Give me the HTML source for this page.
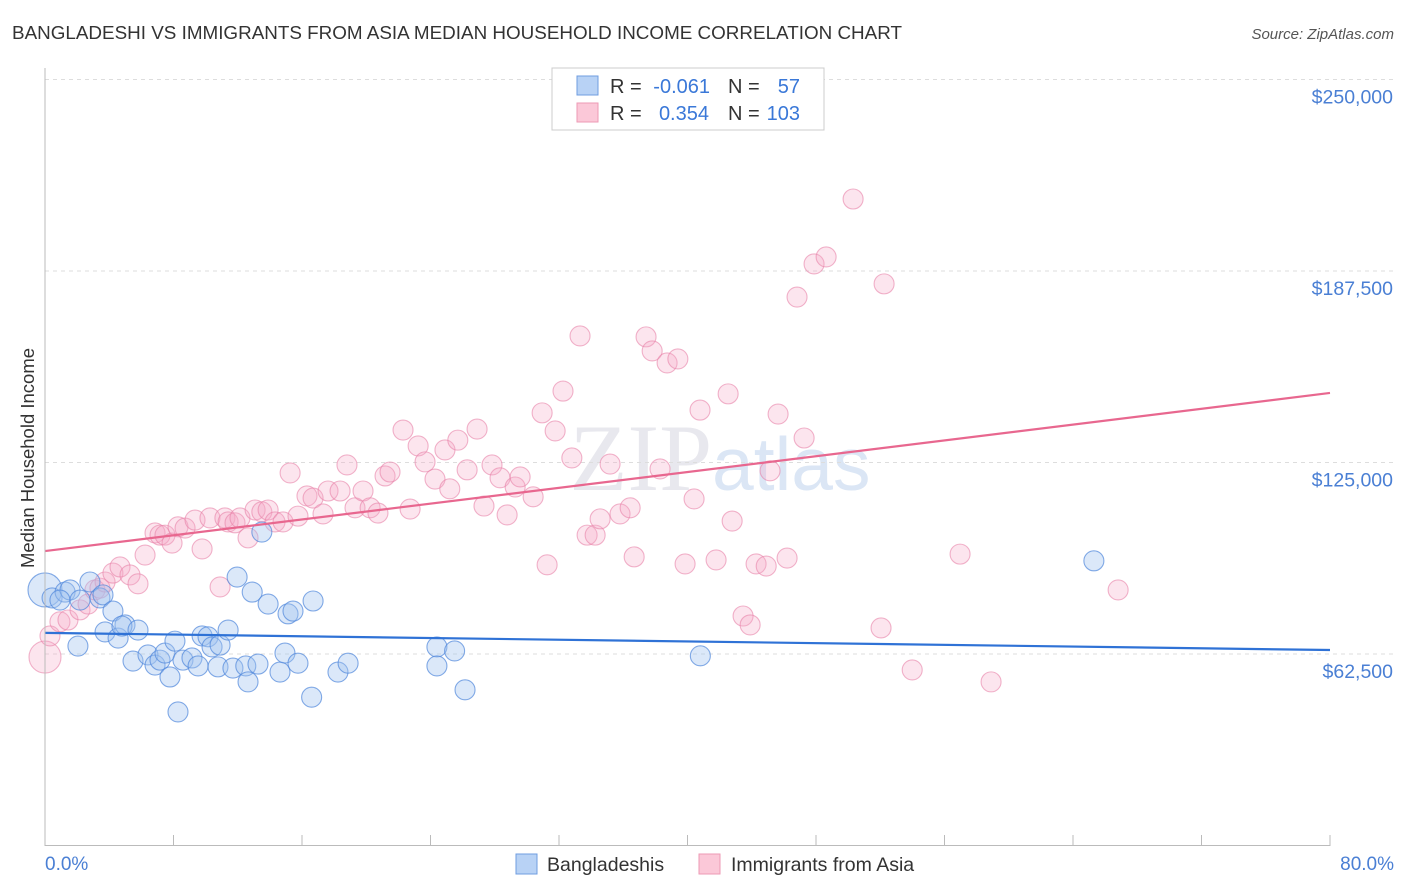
<!DOCTYPE html>
<html><head><meta charset="utf-8"><style>
body{margin:0;background:#fff;font-family:"Liberation Sans",sans-serif}
svg{display:block}
</style></head><body>
<svg id="c" width="1406" height="892">
<text x="12" y="39" font-size="18" fill="#333" textLength="890" lengthAdjust="spacingAndGlyphs">BANGLADESHI VS IMMIGRANTS FROM ASIA MEDIAN HOUSEHOLD INCOME CORRELATION CHART</text>
<text x="1394" y="39" font-size="15" fill="#555" font-style="italic" text-anchor="end">Source: ZipAtlas.com</text>
<text x="34" y="458" font-size="18.5" fill="#333" text-anchor="middle" transform="rotate(-90 34 458)">Median Household Income</text>
<text x="720" y="490" font-size="95" fill="#e8e8ee" text-anchor="middle" font-family="Liberation Serif,serif">ZIP<tspan fill="#dbe6f5" font-family="Liberation Sans,sans-serif" font-size="75">atlas</tspan></text>
<g id="grid"></g><g id="marks"></g><g id="lines"></g>
<line x1="45" y1="68" x2="45" y2="846" stroke="#bbb"/>
<line x1="45" y1="845.5" x2="1330" y2="845.5" stroke="#bbb"/>
<text x="45" y="870" font-size="19" fill="#4a7fd4">0.0%</text>
<text x="1394" y="870" font-size="19" fill="#4a7fd4" text-anchor="end">80.0%</text>
<g>
<rect x="552" y="68" width="272" height="62" fill="#fff" stroke="#ccc"/>
<rect x="577" y="76" width="21" height="19" fill="#b8d2f5" stroke="#6f9de0"/>
<rect x="577" y="103" width="21" height="19" fill="#fbc8d8" stroke="#ee9ab5"/>
<text x="610" y="93" font-size="20" fill="#333">R =</text>
<text x="710" y="93" font-size="20" fill="#3a78d8" text-anchor="end">-0.061</text>
<text x="728" y="93" font-size="20" fill="#333">N =</text>
<text x="800" y="93" font-size="20" fill="#3a78d8" text-anchor="end">57</text>
<text x="610" y="120" font-size="20" fill="#333">R =</text>
<text x="709" y="120" font-size="20" fill="#3a78d8" text-anchor="end">0.354</text>
<text x="728" y="120" font-size="20" fill="#333">N =</text>
<text x="800" y="120" font-size="20" fill="#3a78d8" text-anchor="end">103</text>
</g>
<g>
<rect x="516" y="854" width="21" height="20" fill="#b8d2f5" stroke="#6f9de0"/>
<text x="547" y="871" font-size="19.5" fill="#333">Bangladeshis</text>
<rect x="699" y="854" width="21" height="20" fill="#fbc8d8" stroke="#ee9ab5"/>
<text x="731" y="871" font-size="19.5" fill="#333">Immigrants from Asia</text>
</g>
</svg>
<script>
const yTicks=[62500,125000,187500,250000];
const yTickLabels=["$62,500","$125,000","$187,500","$250,000"];
const blueX=[0,0.44,1.25,1.56,0.93,2.8,3.42,3.61,4.23,2.05,3.74,4.55,4.98,4.79,5.79,5.48,6.41,6.85,7.16,7.47,7.78,8.09,8.28,8.59,9.15,9.53,9.78,10.15,10.4,10.77,10.9,11.4,11.7,11.96,12.5,12.64,12.9,13.26,13.5,13.89,14.63,14.94,15.13,15.44,15.75,16.6,16.69,18.24,18.87,24.4,24.4,25.5,26.15,40.8,65.3,2.18];
const blueY=[83.4,80.8,82.7,83.4,80.1,86.0,80.8,81.8,76.5,65.1,69.7,67.7,72.0,71.6,70.3,60.2,62.2,58.9,60.5,62.8,55.0,66.7,43.6,60.5,61.2,58.6,68.4,68.1,64.8,58.3,65.4,70.3,57.9,87.6,58.6,53.4,82.7,59.2,102.3,78.8,56.6,62.8,75.6,76.5,59.5,48.4,79.8,56.6,59.5,64.8,58.6,63.5,50.8,61.9,92.9,80.1];
const pinkX=[0,0.31,0.93,1.43,2.18,2.68,3.11,3.42,3.74,4.23,4.67,5.29,5.79,6.23,6.85,7.16,7.47,7.91,8.28,8.72,9.34,9.78,10.27,10.9,11.2,11.4,11.83,12.14,12.64,13.08,13.5,13.89,14.32,14.82,15.26,15.75,16.31,16.69,17.31,17.62,18.37,18.8,19.3,19.8,20.24,20.73,21.17,21.48,22.29,22.73,23.23,23.66,24.28,24.9,25.2,25.7,26.28,26.9,27.33,27.83,28.33,28.77,29.27,29.58,30.39,30.95,31.26,31.76,32.25,32.8,33.31,33.75,34.25,34.56,35.18,35.8,36.43,36.68,37.42,37.8,38.29,38.73,39.4,39.85,40.41,40.78,41.78,42.53,42.78,43.46,43.9,44.27,44.9,45.14,45.64,46.2,46.82,47.26,47.88,48.63,50.31,52.05,52.24,53.99,56.97,58.9,66.81];
const pinkY=[61.5,68.4,73.0,73.6,76.9,78.8,83.4,84.0,86.0,88.9,90.9,88.3,85.4,94.8,102.0,101.3,101.3,98.7,104.0,103.6,106.2,96.8,106.9,84.4,106.9,105.6,105.3,106.9,100.4,109.5,108.9,109.5,105.6,105.6,121.6,107.5,114.1,113.4,108.2,115.7,115.7,124.2,110.2,115.7,110.2,108.5,120.6,121.9,135.6,109.8,130.4,125.2,119.6,129.1,116.4,132.3,122.6,135.9,110.8,124.2,120.0,107.9,117.0,120.3,113.8,141.2,91.6,135.3,148.3,126.5,166.3,101.3,101.3,106.6,124.5,108.2,110.2,94.2,166.0,161.4,122.9,157.5,158.8,91.9,113.1,142.1,93.2,147.4,105.9,74.9,72.0,91.9,91.2,122.3,140.8,93.8,179.0,133.0,189.8,192.1,211.0,71.0,183.3,57.3,95.1,53.4,83.4];
const blueTrend=[69.4,63.8];
const pinkTrend=[96.1,147.7];
const X=v=>45+v/80*1285;
const Y=k=>845.5-k*1000/62500*191.5;
const NS="http://www.w3.org/2000/svg";
function mk(t,a,p){const e=document.createElementNS(NS,t);for(const k in a)e.setAttribute(k,a[k]);p.appendChild(e);return e;}
const grid=document.getElementById('grid'),marks=document.getElementById('marks'),lines=document.getElementById('lines');
yTicks.forEach((t,i)=>{
 const y=Y(t/1000);
 const l=mk('line',{x1:45,x2:1394,y1:y,y2:y,stroke:'#ddd','stroke-dasharray':'4,4'},grid);
 
 
 const tx=mk('text',{x:1393,y:y+24,'font-size':19.5,fill:'#4a7fd4','text-anchor':'end'},grid);
 tx.textContent=yTickLabels[i];
 
 
});
for(let i=0;i<=10;i++){
 const x=X(i*8);
 const t=mk('line',{x1:x,x2:x,y1:835,y2:846,stroke:'#bbb'},grid);
 
 
}
pinkX.forEach((v,i)=>{
 const r=(i==0)?16:10;
 const c=mk('circle',{cx:X(v),cy:Y(pinkY[i]),r:r,fill:'rgba(245,170,198,0.3)',stroke:'rgba(232,130,168,0.6)','stroke-width':1.1},marks);
 
 
});
blueX.forEach((v,i)=>{
 const r=(i==0)?17:10;
 const c=mk('circle',{cx:X(v),cy:Y(blueY[i]),r:r,fill:'rgba(160,195,240,0.38)',stroke:'rgba(80,135,220,0.7)','stroke-width':1.1},marks);
 
 
});
const bl=mk('line',{x1:X(0),y1:Y(blueTrend[0]),x2:X(80),y2:Y(blueTrend[1]),stroke:'#2f72d6','stroke-width':2.2},lines);


const pl=mk('line',{x1:X(0),y1:Y(pinkTrend[0]),x2:X(80),y2:Y(pinkTrend[1]),stroke:'#e8678f','stroke-width':2.2},lines);


</script>
</body></html>
